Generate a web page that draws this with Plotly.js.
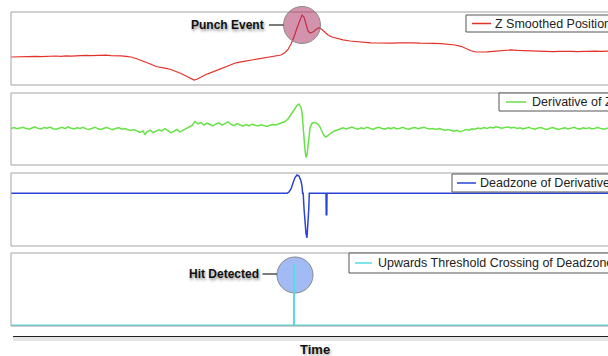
<!DOCTYPE html>
<html>
<head>
<meta charset="utf-8">
<script src="https://cdn.plot.ly/plotly-3.0.1.min.js"></script>
<style>html,body{margin:0;padding:0;background:#fff;overflow:hidden;}#chart{width:608px;height:356px;}</style>
</head>
<body>
<div id="chart"></div>
<script>
// ---- Data (time in samples) ----
const posTime = [0,5,10,15,20,25,30,35,40,45, 50,55,60,65,70,75,80,85,90,95,
  100,105,110,115,120,125,130,135,140,145, 150,155,160,165,170,175,180,183,186,190,
  195,200,205,210,215,220,225,230,235,240, 245,250,255,260,265,270,274,277,280,283,
  286,289,291,293,295,297,299,302,305,308, 311,314,317,321,326,332,339,346,353,360,
  367,374,381,388,395,402,409,416,423,430, 437,444,450,455,460,465,470,476,482,488,
  494,500,506,512,518,524,530,536,542,548, 554,560,566,572,578,584,590,597];
const zSmoothed = [28.0,28.2,27.9,28.3,28.1,28.6,28.4,28.8,28.5,29.0, 28.7,29.2,28.9,29.3,29.1,29.6,29.3,29.7,29.5,29.8,
  29.4,29.6,29.1,28.7,28.0,26.5,24.7,23.0,20.8,18.5, 17.2,16.6,15.5,13.8,11.5,9.0,6.4,5.0,5.7,8.2,
  10.5,12.4,14.5,16.2,18.4,20.5,22.2,23.2,24.0,24.8, 25.5,26.2,27.0,27.8,28.6,30.0,32.5,35.5,41.0,48.0,
  57.0,66.0,70.0,68.0,61.0,54.0,52.0,53.0,55.5,57.2, 55.5,52.5,50.0,48.0,46.5,45.2,44.0,43.2,42.7,42.2,
  42.0,41.7,41.9,42.1,42.4,42.1,41.8,42.0,41.7,41.4, 40.8,40.0,38.7,36.5,34.2,33.0,32.8,33.2,33.7,34.2,
  34.6,35.1,34.7,34.4,34.1,33.8,34.0,33.6,33.3,33.7, 34.0,33.7,33.4,33.8,33.5,33.9,33.6,33.8];

const derTime = [0,3,6,9,12,15,18,21,24,27, 30,33,36,39,42,45,48,51,54,57,
  60,63,66,69,72,75,78,81,84,87, 90,93,96,99,102,105,108,111,114,117,
  120,123,126,129,132,134,136,139,142,145, 148,151,154,157,160,163,166,169,172,175,
  178,181,184,187,190,193,196,199,202,205, 208,211,214,217,220,223,226,229,232,235,
  238,241,244,247,250,253,256,259,262,265, 268,271,274,277,280,283,286,288,290,291,
  292,293,294,295,296,297,298,299,301,304, 307,309,311,313,315,317,320,323,326,329,
  332,335,338,341,344,347,350,353,356,359, 362,365,368,371,374,377,380,383,386,389,
  392,395,398,401,404,407,410,413,416,419, 422,425,428,431,434,437,440,443,446,449,
  452,455,458,461,464,467,470,473,476,479, 482,485,488,491,494,497,500,503,506,509,
  512,515,518,521,524,527,530,533,536,539, 542,545,548,551,554,557,560,563,566,569,
  572,575,578,581,584,587,590,593,597];
const derivZ = [0.0,1.0,-0.3,0.5,1.3,-0.1,-0.7,0.5,1.7,0.1, -0.5,0.9,0.2,1.5,-0.2,-0.8,0.4,1.1,-0.1,1.6,
  0.3,-0.5,0.7,0.0,1.2,-0.4,-0.9,0.5,1.3,-0.3, -1.0,0.3,1.0,-0.4,-1.1,0.2,0.7,-0.7,-0.1,-1.3,
  -2.0,-1.1,-2.7,-4.0,-2.5,-6.0,-3.3,-1.7,-4.1,-2.9, -1.3,-2.4,-0.2,-2.1,-4.3,-2.7,-1.0,-3.3,-1.9,-0.3,
  1.5,3.0,7.0,4.7,5.9,3.5,5.3,3.9,2.5,4.5, 5.7,3.3,5.0,6.7,4.1,2.9,4.9,3.5,2.3,4.0,
  2.7,4.3,3.5,2.5,3.7,2.9,2.1,3.3,3.9,3.5, 4.7,5.7,7.0,9.5,13.5,18.5,23.0,24.5,21.0,16.5,
  3.5,-11.5,-21.5,-29.0,-26.5,-17.5,-7.5,0.5,5.3,6.0, 4.5,1.5,-3.0,-7.0,-8.5,-6.5,-4.5,-2.7,-1.3,-0.1,
  0.7,-0.5,0.3,1.5,0.1,-0.7,0.7,-0.1,1.1,-0.3, -1.0,0.5,1.3,0.0,-0.6,0.6,-0.1,1.0,-0.4,0.3,
  1.2,-0.2,-0.8,0.4,0.9,-0.3,0.5,1.3,0.1,-0.5, 0.0,-0.9,-0.1,-1.3,-1.8,-1.0,-2.1,-2.7,-1.9,-3.3,
  -2.4,-1.1,-1.7,-0.3,-0.8,0.5,-0.2,0.9,0.1,1.3, 0.6,1.7,1.0,0.2,1.1,1.6,0.5,1.2,0.0,0.7,
  -0.5,0.3,1.1,-0.1,-0.7,0.5,1.0,-0.2,-0.9,0.2, 0.9,-0.3,-1.0,0.1,0.8,-0.4,0.4,1.2,0.0,-0.6,
  0.6,-0.1,0.7,-0.5,0.2,1.0,-0.1,-0.7,0.5];

const dzTime = [0,276,278,280,282,284,286,288,290,291,291.6,292.2,293,294,295,296,297,297.8,298.3,315,315.2,315.8,316,597];
const deadzone = [0,0,1.3,4.3,10.3,15.8,18.3,17.3,12.3,7.3,0,0,-15,-30,-40,-44.5,-30,-15,0,0,-21.5,-21.5,0,0];

const crossTime = [0,283,283,283,597];
const crossing = [0,0,1,0,0];

const seriesNames = ['Z Smoothed Position','Derivative of Z','Deadzone of Derivative','Upwards Threshold Crossing of Deadzone'];
const seriesColors = ['#e4322b','#66e247','#2a44d6','#55dbe6'];
const eventLabels = ['Punch Event','Hit Detected'];
const axisTitle = 'Time';

// ---- Layout helpers ----
const W = 608, H = 356;
const px = v => v / W;
const py = v => 1 - v / H;
const FONT = 'Liberation Sans, Arial, Helvetica, sans-serif';
const panels = [[12,85],[93,165],[173,246],[253,326]];
// legend box: left, top, bottom, sample x0, sample x1, text x
const legendBoxes = [[466,15,32,472,491,494],[499,93,111,506,526,531],[452,174,192,457,476,479],[349,253,273,355,372,377]];

const widths = [1.2,1.5,1.5,2];
const xs = [posTime, derTime, dzTime, crossTime];
const ys = [zSmoothed, derivZ, deadzone, crossing];
const traces = ys.map((y, i) => {
  const n = i === 0 ? '' : String(i + 1);
  return {x: xs[i], y: y, xaxis:'x' + n, yaxis:'y' + n, name: seriesNames[i], mode:'lines',
    line:{color: seriesColors[i], width: widths[i]}, showlegend:false};
});

const xBase = {domain:[px(11),1], range:[0,597], showgrid:false, zeroline:false, showline:false, showticklabels:false, ticks:'', fixedrange:true};
const yBase = {showgrid:false, zeroline:false, showline:false, showticklabels:false, ticks:'', fixedrange:true};
const yRanges = [[0,73],[-36.5,35.5],[-52.7,20.3],[-0.008,1.19]];

const boldShadow = 'rgba(0,0,0,0.45) 1px 2px 3px';
const layout = {
  width: W, height: H,
  margin:{l:0,r:0,t:0,b:0, autoexpand:false},
  paper_bgcolor:'#ffffff', plot_bgcolor:'rgba(0,0,0,0)',
  showlegend:false,
  shapes: [],
  annotations: [
    {xref:'paper', yref:'paper', x:px(266), y:py(25), xanchor:'right', yanchor:'middle', showarrow:false,
     text:eventLabels[0], font:{family:FONT, size:12, color:'#111', weight:'bold', shadow:boldShadow}},
    {xref:'paper', yref:'paper', x:px(260.5), y:py(274), xanchor:'right', yanchor:'middle', showarrow:false,
     text:eventLabels[1], font:{family:FONT, size:12, color:'#111', weight:'bold', shadow:boldShadow}},
    {xref:'paper', yref:'paper', x:px(315), y:py(349), xanchor:'center', yanchor:'middle', showarrow:false,
     text:axisTitle, font:{family:FONT, size:13, color:'#111', weight:'bold', shadow:'rgba(0,0,0,0.35) 1px 2px 3px'}}
  ]
};

panels.forEach((p, i) => {
  const n = i === 0 ? '' : String(i + 1);
  layout['xaxis' + n] = Object.assign({}, xBase, {anchor:'y' + n});
  layout['yaxis' + n] = Object.assign({}, yBase, {domain:[py(p[1]), py(p[0])], range:yRanges[i], anchor:'x' + n});
  layout.shapes.push({type:'rect', xref:'paper', yref:'paper', x0:px(11), x1:1.05, y0:py(p[1]), y1:py(p[0]),
    line:{color:'#a3a3a3', width:1}, fillcolor:'rgba(0,0,0,0)', layer:'above'});
});

// event circles and connectors
layout.shapes.push(
  {type:'circle', xref:'paper', yref:'paper', x0:px(283.5), x1:px(320.5), y0:py(43.5), y1:py(6.5),
   fillcolor:'rgba(170,40,90,0.5)', line:{color:'#8a8a8a', width:1}, layer:'above'},
  {type:'line', xref:'paper', yref:'paper', x0:px(269), x1:px(283.5), y0:py(25), y1:py(25), line:{color:'#333', width:1.3}},
  {type:'circle', xref:'paper', yref:'paper', x0:px(277), x1:px(313), y0:py(293), y1:py(257),
   fillcolor:'rgba(70,120,235,0.5)', line:{color:'#8a8a8a', width:1}, layer:'below'},
  {type:'line', xref:'paper', yref:'paper', x0:px(262.5), x1:px(277), y0:py(274), y1:py(274), line:{color:'#333', width:1.3}},
  // time axis line with soft shadow
  {type:'line', xref:'paper', yref:'paper', x0:px(13), x1:1, y0:py(339), y1:py(339), line:{color:'rgba(0,0,0,0.10)', width:4}},
  {type:'line', xref:'paper', yref:'paper', x0:px(13), x1:1, y0:py(336.5), y1:py(336.5), line:{color:'#222', width:1}}
);

// per-panel legend boxes (cut off at the right edge, as in the reference)
legendBoxes.forEach((b, i) => {
  const mid = (b[1] + b[2]) / 2;
  layout.shapes.push(
    {type:'rect', xref:'paper', yref:'paper', x0:px(b[0]), x1:1.2, y0:py(b[2]), y1:py(b[1]),
     fillcolor:'#ffffff', line:{color:'#555555', width:1}, layer:'above'},
    {type:'line', xref:'paper', yref:'paper', x0:px(b[3]), x1:px(b[4]), y0:py(mid), y1:py(mid),
     line:{color: seriesColors[i], width:1.5}, layer:'above'}
  );
  layout.annotations.push({xref:'paper', yref:'paper', x:px(b[5]), y:py(mid), xanchor:'left', yanchor:'middle',
    showarrow:false, text: seriesNames[i], borderpad:0, font:{family:FONT, size:12.5, color:'#222'}});
});

Plotly.newPlot('chart', traces, layout, {staticPlot:true, displayModeBar:false});
</script>
</body>
</html>
